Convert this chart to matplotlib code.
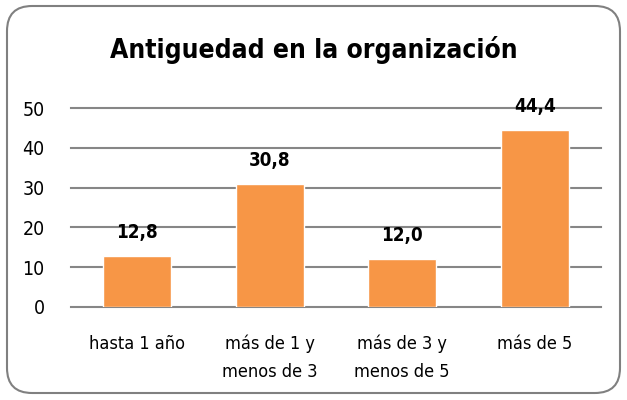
import matplotlib.pyplot as plt
from matplotlib.patches import FancyBboxPatch

categorias = ["hasta 1 año", "más de 1 y\nmenos de 3", "más de 3 y\nmenos de 5", "más de 5"]
valores = [12.8, 30.8, 12.0, 44.4]
etiquetas = ["12,8", "30,8", "12,0", "44,4"]
yticks = [0, 10, 20, 30, 40, 50]

plt.rcParams['font.family'] = ['DejaVu Sans']
plt.rcParams['font.stretch'] = 'condensed'

W, H = 627, 400
fig = plt.figure(figsize=(W / 100, H / 100), dpi=100)
ax = fig.add_axes([71 / W, 1 - 307 / H, 530 / W, 199 / H])

x = list(range(len(categorias)))
ax.bar(x, valores, width=0.51, color="#F79646", edgecolor="white", linewidth=1, zorder=3)
for xi, v, t in zip(x, valores, etiquetas):
    ax.annotate(t, (xi, v), xytext=(0, 17), textcoords="offset points",
                ha="center", va="center", fontsize=13.5, fontweight="bold", zorder=4)

ax.set_xlim(-0.5, 3.5)
ax.set_ylim(0, 50)
ax.set_yticks(yticks)
ax.set_xticks(x)
ax.set_xticklabels(categorias, fontsize=13, linespacing=1.7, va="top")
ax.tick_params(axis="x", length=0, pad=20)
ax.tick_params(axis="y", length=0, pad=19, labelsize=14)
ax.yaxis.grid(True, color="#868686", linewidth=1.5, zorder=0)
for gl in ax.get_ygridlines():
    gl.set_clip_on(False)
for s in ax.spines.values():
    s.set_visible(False)

fig.text(0.5, 1 - 50 / H, "Antiguedad en la organización", ha="center", va="center",
         fontsize=19, fontweight="bold")

borde = FancyBboxPatch((7 / W, 7 / H), 613 / W, 387 / H,
                       boxstyle="round,pad=0,rounding_size=0.04",
                       mutation_aspect=W / H, transform=fig.transFigure,
                       facecolor="none", edgecolor="#808080", linewidth=1.5)
fig.patches.append(borde)

fig.savefig("out.png", dpi=100)
